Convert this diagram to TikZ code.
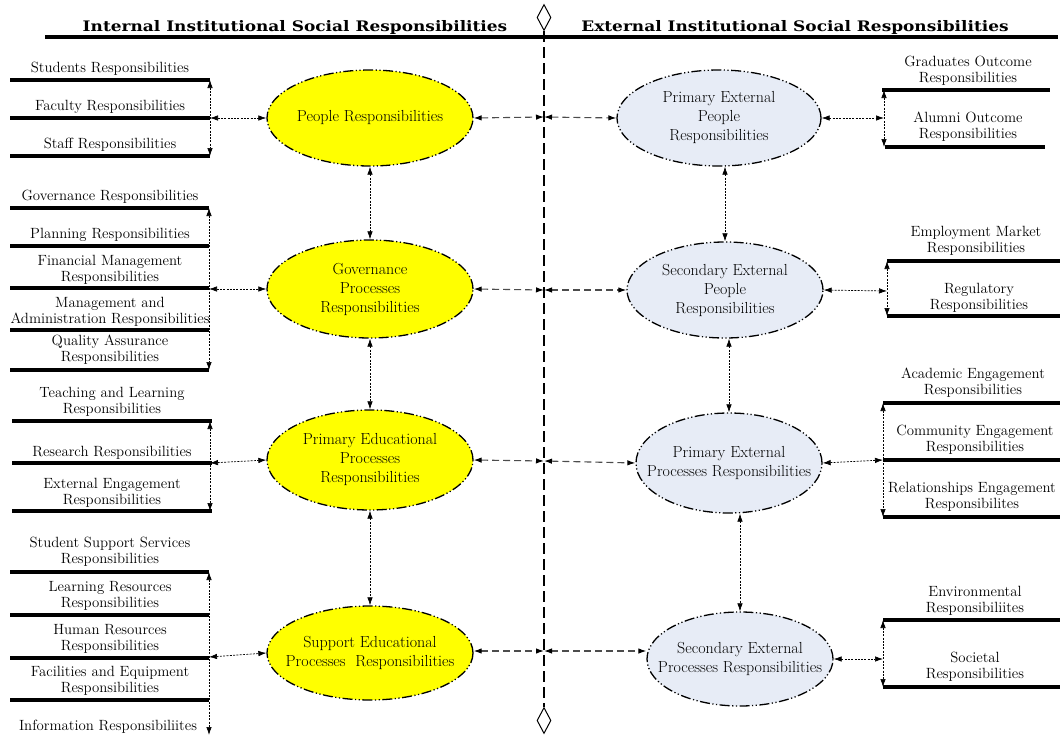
\documentclass[tikz,border=0pt]{standalone}
\usepackage{fontspec}
\newfontfamily\headfont{DejaVu Serif}
\usetikzlibrary{arrows.meta,shapes.geometric}
\definecolor{inyellow}{RGB}{255,255,0}
\definecolor{extblue}{RGB}{231,236,246}
\tikzset{
  head/.style={font=\headfont\bfseries\fontsize{14.5}{16}\selectfont, inner sep=0pt,
    anchor=base, xscale=1.17},
  lab/.style={font=\fontsize{14.8}{16}\selectfont, align=center, inner sep=0pt},
  ovtext/.style={font=\fontsize{16}{19}\selectfont, align=center, inner sep=0pt},
  bar/.style={line width=4pt},
  oval/.style={ellipse, draw=black, line width=1.3pt,
    dash pattern=on 10pt off 2.5pt on 1.2pt off 2.5pt on 1.2pt off 2.5pt, inner sep=0pt},
  inoval/.style={oval, fill=inyellow},
  exoval/.style={oval, fill=extblue},
  dotarrow/.style={<->, line width=0.7pt, dash pattern=on 2pt off 1.3pt},
  dasharrow/.style={<->, line width=1.1pt, draw=black!70, dash pattern=on 7pt off 4pt},
  centerline/.style={line width=1.5pt, dash pattern=on 11pt off 5pt},
  mark diamond/.style={diamond, draw, line width=1pt, fill=white, inner sep=0pt,
    minimum width=14pt, minimum height=26pt},
  >={Latex[length=8pt,width=5.5pt,color=black]}
}
\begin{document}
\begin{tikzpicture}[x=1pt,y=-1pt]
\useasboundingbox (0,0) rectangle (1060,736);

% ---------- headings and dividing line ----------
\node[head] (hin) at (295,31.3) {Internal Institutional Social Responsibilities};
\node[head] (hex) at (795,31.3) {External Institutional Social Responsibilities};
\draw[line width=4.5pt] (45,37) -- (1058,37);
\node[mark diamond] (dtop) at (544,17.5) {};
\node[mark diamond] (dbot) at (544,720.5) {};
\draw[centerline] (dtop.south) -- (dbot.north);
\coordinate (c1) at (544,117);
\coordinate (c2) at (544,290);
\coordinate (c3) at (544,461);
\coordinate (c4) at (544,651);

% ---------- internal ellipses ----------
\node[inoval, minimum width=206pt, minimum height=96pt] (p1) at (370,118) {};
\node[ovtext] (p1t) at (p1) {People Responsibilities};
\node[inoval, minimum width=206pt, minimum height=98pt] (p2) at (370,289) {};
\node[ovtext] (p2t) at (p2) {Governance\\Processes\\Responsibilities};
\node[inoval, minimum width=206pt, minimum height=100pt] (p3) at (370,460) {};
\node[ovtext] (p3t) at (p3) {Primary Educational\\Processes\\Responsibilities};
\node[inoval, minimum width=206pt, minimum height=94pt] (p4) at (370,653) {};
\node[ovtext] (p4t) at (p4) {Support Educational\\Processes\ \ Responsibilities};

% ---------- external ellipses ----------
\node[exoval, minimum width=204pt, minimum height=96pt] (q1) at (719,118) {};
\node[ovtext] (q1t) at (q1) {Primary External\\People\\Responsibilities};
\node[exoval, minimum width=196pt, minimum height=96pt] (q2) at (725,290) {};
\node[ovtext] (q2t) at (q2) {Secondary External\\People\\Responsibilities};
\node[exoval, minimum width=186pt, minimum height=100pt] (q3) at (729,463) {};
\node[ovtext] (q3t) at (q3) {Primary External\\Processes Responsibilities};
\node[exoval, minimum width=186pt, minimum height=94pt] (q4) at (740,659) {};
\node[ovtext] (q4t) at (q4) {Secondary External\\Processes Responsibilities};

% ---------- links through the dividing line ----------
\draw[dasharrow] (p1.east) -- (c1);
\draw[dasharrow] (p2.east) -- (c2);
\draw[dasharrow] (p3.east) -- (c3);
\draw[dasharrow] (p4.east |- c4) -- (c4);
\draw[dasharrow] (c1) -- (q1.west);
\draw[dasharrow] (c2) -- (q2.west);
\draw[dasharrow] (c3) -- (q3.west);
\draw[dasharrow] (c4) -- (q4.west |- c4);

% ---------- links between ellipses ----------
\draw[dotarrow] (p1.south) -- (p2.north);
\draw[dotarrow] (p2.south) -- (p3.north);
\draw[dotarrow] (p3.south) -- (p4.north);
\draw[dotarrow] (q2.north |- q1.south) -- (q2.north);
\draw[dotarrow] (q3.north |- q2.south) -- (q3.north);
\draw[dotarrow] (q4.north |- q3.south) -- (q4.north);

% ---------- people responsibilities ----------
\foreach \y in {80,118,156} \draw[bar] (10,\y) -- (210,\y);
\node[lab] (a1) at (110,69) {Students Responsibilities};
\node[lab] (a2) at (110,107) {Faculty Responsibilities};
\node[lab] (a3) at (110,145) {Staff Responsibilities};
\coordinate (g1t) at (210,80);
\coordinate (g1m) at (210,118);
\coordinate (g1b) at (210,156);
\draw[dotarrow] (g1t) -- (g1b);
\draw[dotarrow] (g1m) -- (p1.west);

% ---------- governance responsibilities ----------
\foreach \y in {208,246,288,330,370} \draw[bar] (10,\y) -- (209,\y);
\node[lab] (b1) at (110,197) {Governance Responsibilities};
\node[lab] (b2) at (110,235) {Planning Responsibilities};
\node[lab] (b3) at (110,270) {Financial Management\\Responsibilities};
\node[lab] (b4) at (110,312) {Management and\\Administration Responsibilities};
\node[lab] (b5) at (110,350) {Quality Assurance\\Responsibilities};
\coordinate (g2t) at (209,208);
\coordinate (g2m) at (209,289);
\coordinate (g2b) at (209,370);
\draw[dotarrow] (g2t) -- (g2b);
\draw[dotarrow] (g2m) -- (p2.west);

% ---------- primary educational responsibilities ----------
\foreach \y in {421,463,511} \draw[bar] (12,\y) -- (212,\y);
\node[lab] (e1) at (112,402) {Teaching and Learning\\Responsibilities};
\node[lab] (e2) at (112,453) {Research Responsibilities};
\node[lab] (e3) at (112,493) {External Engagement\\Responsibilities};
\coordinate (g3t) at (210,421);
\coordinate (g3m) at (210,463);
\coordinate (g3b) at (210,511);
\draw[dotarrow] (g3t) -- (g3b);
\draw[dotarrow] (g3m) -- (p3.west);

% ---------- support educational responsibilities ----------
\foreach \y in {572,615,658,700} \draw[bar] (10,\y) -- (209,\y);
\node[lab] (f1) at (110,552) {Student Support Services\\Responsibilities};
\node[lab] (f2) at (110,596) {Learning Resources\\Responsibilities};
\node[lab] (f3) at (110,639) {Human Resources\\Responsibilities};
\node[lab] (f4) at (110,681) {Facilities and Equipment\\Responsibilities};
\node[lab] (f5) at (108,727) {Information Responsibiliites};
\coordinate (g4t) at (209,572);
\coordinate (g4m) at (209,657);
\coordinate (g4b) at (209,735);
\draw[dotarrow] (g4t) -- (g4b);
\draw[dotarrow] (g4m) -- (p4.west);

% ---------- external people responsibilities ----------
\draw[bar] (882,90) -- (1050,90);
\draw[bar] (885,147) -- (1045,147);
\node[lab] (h1) at (968,71) {Graduates Outcome\\Responsibilities};
\node[lab] (h2) at (968,127) {Alumni Outcome\\Responsibilities};
\coordinate (r1t) at (884,90);
\coordinate (r1m) at (884,118);
\coordinate (r1b) at (884,147);
\draw[dotarrow] (r1t) -- (r1b);
\draw[dotarrow] (q1.east) -- (r1m);

% ---------- secondary external people ----------
\foreach \y in {261,316} \draw[bar] (887,\y) -- (1060,\y);
\node[lab] (k1) at (976,241) {Employment Market\\Responsibilities};
\node[lab] (k2) at (979,298) {Regulatory\\Responsibilities};
\coordinate (r2t) at (887,261);
\coordinate (r2m) at (887,291);
\coordinate (r2b) at (887,316);
\draw[dotarrow] (r2t) -- (r2b);
\draw[dotarrow] (q2.east) -- (r2m);

% ---------- primary external processes ----------
\foreach \y in {403,460,517} \draw[bar] (883,\y) -- (1060,\y);
\node[lab] (m1) at (973,383) {Academic Engagement\\Responsibilities};
\node[lab] (m2) at (975,440) {Community Engagement\\Responsibilities};
\node[lab] (m3) at (972,497) {Relationships Engagement\\Responsibilites};
\coordinate (r3t) at (883,403);
\coordinate (r3m) at (883,460);
\coordinate (r3b) at (883,517);
\draw[dotarrow] (r3t) -- (r3b);
\draw[dotarrow] (q3.east) -- (r3m);

% ---------- secondary external processes ----------
\foreach \y in {620,687} \draw[bar] (883,\y) -- (1060,\y);
\node[lab] (n1) at (975,601) {Environmental\\Responsibiliites};
\node[lab] (n2) at (975,667) {Societal\\Responsibilities};
\coordinate (r4t) at (883,620);
\coordinate (r4m) at (883,659);
\coordinate (r4b) at (883,687);
\draw[dotarrow] (r4t) -- (r4b);
\draw[dotarrow] (q4.east) -- (r4m);
\end{tikzpicture}
\end{document}
